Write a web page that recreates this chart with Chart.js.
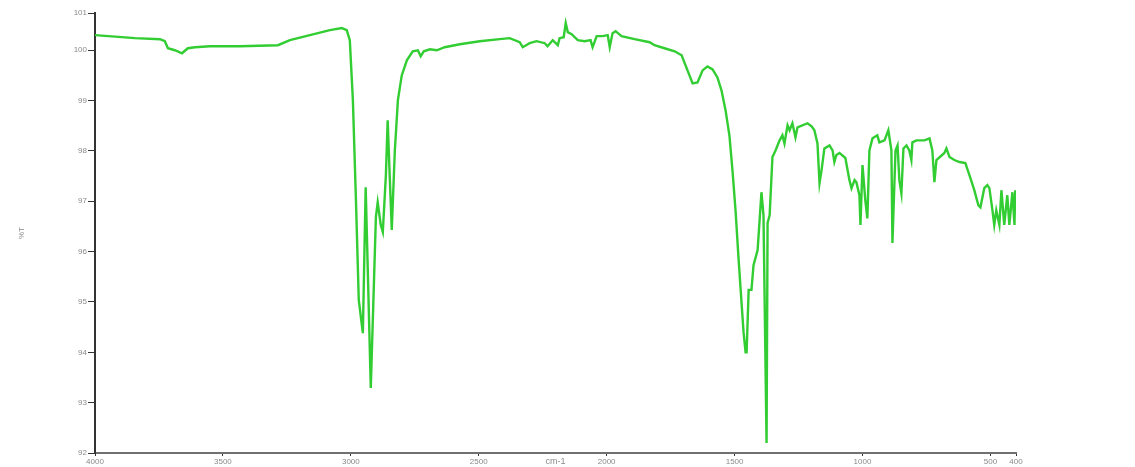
<!DOCTYPE html>
<html>
<head>
<meta charset="utf-8">
<title>IR spectrum</title>
<script src="https://cdn.jsdelivr.net/npm/chart.js@4/dist/chart.umd.min.js"></script>
<style>
  html, body { margin: 0; padding: 0; background: #fff; }
  #wrap { width: 1135px; height: 467px; position: relative; }
</style>
</head>
<body>
<div id="wrap"><canvas id="spectrum"></canvas></div>
<script>
// Wavenumbers (cm-1), high to low
const wavenumber = [
  4000, 3844, 3746, 3727, 3715, 3688, 3660, 3637, 3609, 3551,
  3434, 3285, 3238, 3160, 3082, 3035, 3016, 3004, 2992, 2980,
  2969, 2953, 2942, 2922, 2902, 2895, 2883, 2875, 2863, 2856,
  2848, 2840, 2828, 2816, 2801, 2781, 2758, 2738, 2727, 2715,
  2691, 2664, 2633, 2574, 2496, 2418, 2379, 2340, 2328, 2301,
  2274, 2242, 2231, 2211, 2191, 2184, 2168, 2160, 2152, 2137,
  2113, 2086, 2063, 2055, 2039, 2016, 1996, 1988, 1977, 1965,
  1942, 1891, 1832, 1813, 1774, 1734, 1707, 1684, 1664, 1645,
  1625, 1606, 1586, 1567, 1551, 1535, 1520, 1508, 1496, 1485,
  1473, 1465, 1457, 1453, 1445, 1434, 1426, 1410, 1395, 1387,
  1375, 1371, 1363, 1352, 1340, 1324, 1313, 1305, 1293, 1285,
  1274, 1262, 1254, 1215, 1199, 1188, 1176, 1168, 1160, 1149,
  1129, 1117, 1110, 1102, 1090, 1067, 1051, 1043, 1031, 1024,
  1012, 1008, 1000, 989, 981, 973, 961, 942, 934, 914,
  899, 887, 883, 871, 863, 856, 848, 840, 828, 817,
  809, 805, 789, 758, 738, 727, 719, 711, 680, 672,
  660, 641, 621, 598, 582, 563, 547, 539, 524, 512,
  504, 492, 485, 477, 465, 457, 446, 434, 426, 414,
  406, 403
];

// Transmittance (%T) at each wavenumber
const transmittance = [
  100.30, 100.24, 100.22, 100.18, 100.04, 100.00, 99.94, 100.04, 100.06, 100.08,
  100.08, 100.10, 100.20, 100.30, 100.40, 100.44, 100.40, 100.20, 99.01, 97.02,
  95.04, 94.38, 97.28, 93.29, 96.69, 96.98, 96.53, 96.39, 97.52, 98.61,
  97.50, 96.43, 98.01, 99.01, 99.50, 99.80, 99.98, 100.00, 99.88, 99.98,
  100.02, 100.00, 100.06, 100.12, 100.18, 100.22, 100.24, 100.16, 100.06, 100.14,
  100.18, 100.14, 100.08, 100.20, 100.10, 100.24, 100.26, 100.54, 100.36, 100.32,
  100.20, 100.18, 100.20, 100.06, 100.28, 100.28, 100.30, 100.06, 100.34, 100.38,
  100.28, 100.22, 100.16, 100.10, 100.04, 99.98, 99.90, 99.60, 99.34, 99.36,
  99.60, 99.68, 99.62, 99.46, 99.20, 98.80, 98.30, 97.60, 96.80, 95.90,
  95.00, 94.40, 94.00, 94.00, 95.24, 95.24, 95.73, 96.03, 97.18, 96.72,
  92.20, 96.57, 96.72, 97.88, 98.01, 98.21, 98.31, 98.15, 98.51, 98.41,
  98.55, 98.27, 98.47, 98.55, 98.49, 98.41, 98.15, 97.36, 97.62, 98.05,
  98.11, 98.01, 97.78, 97.92, 97.96, 97.86, 97.42, 97.26, 97.42, 97.38,
  97.12, 96.53, 97.72, 97.02, 96.66, 98.01, 98.25, 98.31, 98.17, 98.21,
  98.41, 98.01, 96.17, 98.01, 98.11, 97.42, 97.16, 98.05, 98.11, 98.01,
  97.82, 98.17, 98.21, 98.21, 98.25, 98.01, 97.38, 97.82, 97.96, 98.05,
  97.88, 97.82, 97.78, 97.76, 97.52, 97.22, 96.92, 96.88, 97.26, 97.32,
  97.26, 96.82, 96.53, 96.82, 96.53, 97.22, 96.53, 97.12, 96.53, 97.18,
  96.53, 97.22
];

// Axis tick positions
const xTicks = [4000, 3500, 3000, 2500, 2000, 1500, 1000, 500, 400];
const yTicks = [92, 93, 94, 95, 96, 97, 98, 99, 100, 100.74];
const yMin = 92;
const yMax = 100.74;

const points = wavenumber.map((w, i) => ({ x: w, y: transmittance[i] }));

const labelFont = { family: "'Liberation Sans', Arial, sans-serif", size: 8 };
const labelColor = '#8a8a8a';

new Chart(document.getElementById('spectrum'), {
  type: 'line',
  data: {
    datasets: [{
      data: points,
      borderColor: 'rgb(50, 205, 50)',
      borderWidth: 2.4,
      pointRadius: 0,
      tension: 0,
      fill: false
    }]
  },
  options: {
    responsive: true,
    maintainAspectRatio: false,
    animation: false,
    events: [],
    layout: { padding: { top: 13, right: 119, bottom: 0, left: 0 } },
    plugins: {
      legend: { display: false },
      tooltip: { enabled: false }
    },
    scales: {
      x: {
        type: 'linear',
        reverse: true,
        min: 400,
        max: 4000,
        afterBuildTicks: (scale) => { scale.ticks = xTicks.map(v => ({ value: v })); },
        afterFit: (scale) => { scale.height = 14; },
        ticks: {
          autoSkip: false,
          maxRotation: 0,
          padding: 1,
          font: labelFont,
          color: labelColor,
          callback: (v) => String(v)
        },
        grid: {
          drawOnChartArea: false,
          drawTicks: true,
          tickLength: 3,
          tickColor: '#333'
        },
        border: { color: '#707070', width: 2 },
        title: {
          display: true,
          text: 'cm-1',
          font: { family: labelFont.family, size: 9 },
          color: labelColor,
          padding: { top: 0, bottom: 0 }
        }
      },
      y: {
        type: 'linear',
        min: yMin,
        max: yMax,
        afterBuildTicks: (scale) => { scale.ticks = yTicks.map(v => ({ value: v })); },
        afterFit: (scale) => { scale.width = 95; },
        ticks: {
          padding: 1,
          font: labelFont,
          color: labelColor,
          callback: (v) => String(Math.round(v))
        },
        grid: {
          drawOnChartArea: false,
          drawTicks: true,
          tickLength: 7,
          tickColor: '#333'
        },
        border: { color: '#333', width: 2 },
        title: {
          display: true,
          text: '%T',
          font: { family: labelFont.family, size: 8 },
          color: labelColor,
          padding: { top: 17, bottom: 0 }
        }
      }
    }
  }
});
</script>
</body>
</html>
